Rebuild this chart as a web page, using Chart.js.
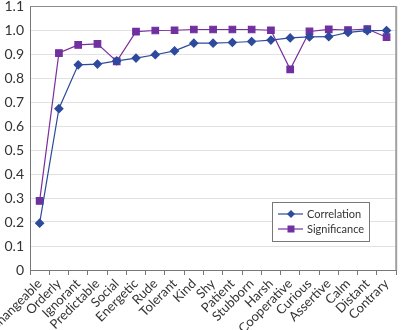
<!DOCTYPE html>
<html>
<head>
<script src="https://cdn.jsdelivr.net/npm/chart.js@4"></script>
<style>
  html, body { margin: 0; padding: 0; background: #fff; }
  #wrap { width: 402px; height: 330px; }
</style>
</head>
<body>
<div id="wrap"><canvas id="chart" width="402" height="330"></canvas></div>
<script>
const categories = ['Changeable', 'Orderly', 'Ignorant', 'Predictable', 'Social', 'Energetic', 'Rude', 'Tolerant', 'Kind', 'Shy',
  'Patient', 'Stubborn', 'Harsh', 'Cooperative', 'Curious', 'Assertive', 'Calm', 'Distant', 'Contrary'];
const correlation = [0.195, 0.672, 0.855, 0.858, 0.871, 0.883, 0.897, 0.913, 0.945, 0.945,
  0.948, 0.952, 0.958, 0.967, 0.971, 0.972, 0.99, 0.997, 0.998];
const significance = [0.288, 0.904, 0.938, 0.942, 0.869, 0.993, 0.998, 0.999, 1.002, 1.002,
  1.002, 1.002, 0.999, 0.836, 0.994, 1.003, 1.0, 1.004, 0.970];
const yTicks = [0, 0.1, 0.2, 0.3, 0.4, 0.5, 0.6, 0.7, 0.8, 0.9, 1.0, 1.1];

const FONT = 'Lato, "Open Sans", sans-serif';
const blue = '#2E4A9C';
const purple = '#7A2E9E';

// frame around the plot area
const framePlugin = {
  id: 'frame',
  afterDraw(chart) {
    const { ctx, chartArea: a } = chart;
    ctx.save();
    ctx.strokeStyle = '#8a8a8a';
    ctx.lineWidth = 1;
    ctx.beginPath();
    ctx.moveTo(a.left, a.top + 0.5);
    ctx.lineTo(a.right, a.top + 0.5);
    ctx.stroke();
    ctx.lineWidth = 2;
    ctx.strokeStyle = '#a0a0a0';
    ctx.beginPath();
    ctx.moveTo(a.right, a.top);
    ctx.lineTo(a.right, a.bottom);
    ctx.stroke();
    ctx.restore();
  }
};

// legend box with line + marker, inside the plot
const boxLegend = {
  id: 'boxLegend',
  afterDraw(chart) {
    const { ctx } = chart;
    const x = 272, y = 202, w = 97, h = 39;
    ctx.save();
    ctx.fillStyle = '#fff';
    ctx.fillRect(x, y, w, h);
    ctx.strokeStyle = '#777';
    ctx.lineWidth = 1;
    ctx.strokeRect(x + 0.5, y + 0.5, w, h);
    ctx.font = '11px ' + FONT;
    ctx.textBaseline = 'middle';
    chart.data.datasets.forEach((ds, i) => {
      const cy = y + 12 + i * 15;
      ctx.strokeStyle = ds.borderColor;
      ctx.lineWidth = 1.2;
      ctx.beginPath();
      ctx.moveTo(x + 6, cy);
      ctx.lineTo(x + 31, cy);
      ctx.stroke();
      ctx.fillStyle = ds.pointBackgroundColor;
      ctx.beginPath();
      if (ds.pointStyle === 'rectRot') {
        ctx.moveTo(x + 19, cy - 4);
        ctx.lineTo(x + 23, cy);
        ctx.lineTo(x + 19, cy + 4);
        ctx.lineTo(x + 15, cy);
        ctx.closePath();
      } else {
        ctx.rect(x + 15.5, cy - 3.5, 7, 7);
      }
      ctx.fill();
      ctx.fillStyle = '#333';
      ctx.fillText(ds.label, x + 35, cy);
    });
    ctx.restore();
  }
};

new Chart(document.getElementById('chart'), {
  type: 'line',
  data: {
    labels: categories,
    datasets: [
      {
        label: 'Correlation',
        data: correlation,
        borderColor: blue,
        backgroundColor: blue,
        pointBackgroundColor: blue,
        pointBorderColor: blue,
        pointStyle: 'rectRot',
        pointRadius: 4,
        borderWidth: 1.2,
        tension: 0
      },
      {
        label: 'Significance',
        data: significance,
        borderColor: purple,
        backgroundColor: purple,
        pointBackgroundColor: '#7030A0',
        pointBorderColor: '#7030A0',
        pointStyle: 'rect',
        pointRadius: 4.6,
        borderWidth: 1.2,
        tension: 0
      }
    ]
  },
  options: {
    responsive: false,
    animation: false,
    layout: { padding: { top: 6, right: 3, left: 0, bottom: 0 } },
    plugins: {
      legend: { display: false },
      tooltip: { enabled: false }
    },
    scales: {
      x: {
        offset: true,
        grid: {
          offset: true,
          drawOnChartArea: false,
          drawTicks: true,
          tickLength: 5,
          color: '#777'
        },
        border: { color: '#777', width: 1 },
        ticks: {
          autoSkip: false,
          maxRotation: 45,
          minRotation: 45,
          padding: 1,
          color: '#333',
          font: { family: FONT, size: 13 }
        },
        afterFit(scale) {
          scale.height = 60;
          scale.paddingLeft = 0;
          scale.paddingRight = 0;
        }
      },
      y: {
        min: 0,
        max: 1.1,
        afterBuildTicks(scale) {
          scale.ticks = yTicks.map(v => ({ value: v }));
        },
        grid: { color: '#e2e2e2', drawTicks: false },
        border: { color: '#777', width: 1 },
        ticks: {
          padding: 6,
          color: '#333',
          font: { family: FONT, size: 14 },
          callback: v => v === 0 ? '0' : v.toFixed(1)
        },
        afterFit(scale) {
          scale.width = 30;
          scale.paddingTop = 0;
          scale.paddingBottom = 0;
        }
      }
    }
  },
  plugins: [framePlugin, boxLegend]
});
</script>
</body>
</html>
